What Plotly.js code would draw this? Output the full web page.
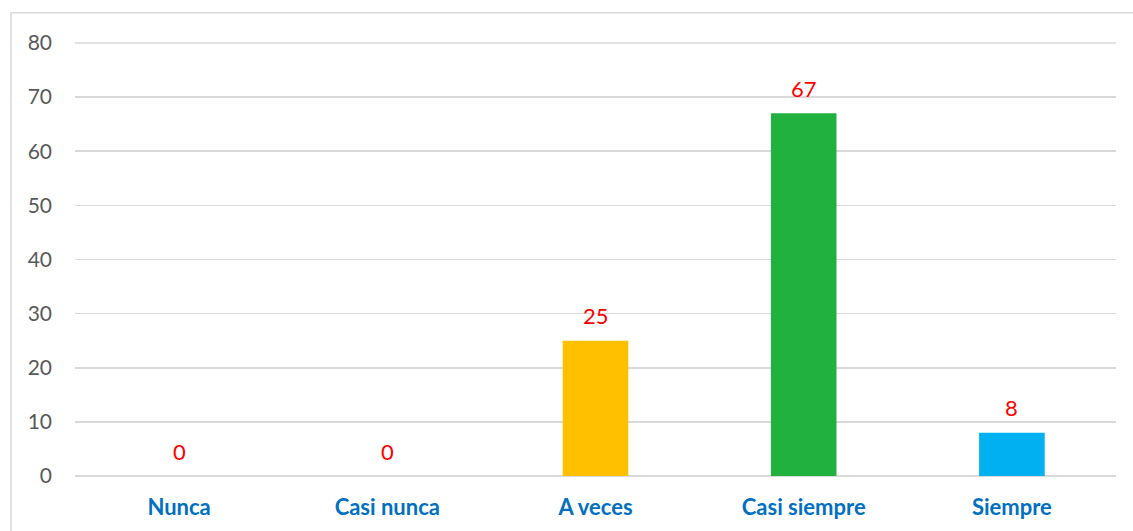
<!DOCTYPE html>
<html>
<head>
<meta charset="utf-8">
<script src="https://cdn.plot.ly/plotly-3.0.1.min.js"></script>
<style>
html,body{margin:0;padding:0;background:#fff;}
#chart{width:1133px;height:531px;}
</style>
</head>
<body>
<div id="chart"></div>
<script>
const categories = ["Nunca", "Casi nunca", "A veces", "Casi siempre", "Siempre"];
const values = [0, 0, 25, 67, 8];
const barColors = ["#FFC000", "#FFC000", "#FFC000", "#21B13F", "#00B0F0"];
const yTicks = [0, 10, 20, 30, 40, 50, 60, 70, 80];

const trace = {
  type: "bar",
  x: categories,
  y: values,
  marker: {color: barColors},
  hoverinfo: "x+y"
};

const annotations = categories.map((c, i) => ({
  x: c, y: values[i], xref: "x", yref: "y",
  text: String(values[i]), showarrow: false,
  yanchor: "middle", yshift: 25,
  font: {family: "Lato, 'Open Sans', sans-serif", size: 22, color: "#FF0000"}
}));

const L = 75, R = 1116, T = 43, B = 476;
const pw = R - L, ph = B - T;
const yMax = yTicks[yTicks.length - 1];

const layout = {
  width: 1133, height: 531,
  margin: {l: L, r: 1133 - R, t: T - 1, b: 531 - B - 1, pad: 0},
  paper_bgcolor: "#ffffff",
  plot_bgcolor: "rgba(0,0,0,0)",
  showlegend: false,
  bargap: 0.685,
  xaxis: {
    type: "category",
    showgrid: false, zeroline: false, showline: false,
    ticks: "",
    ticklabelstandoff: 15,
    tickfont: {family: "Lato, 'Open Sans', sans-serif", size: 22, color: "#0070C0", weight: "bold"}
  },
  yaxis: {
    range: [-0.18, yMax + 0.18],
    tickvals: yTicks,
    ticktext: yTicks.map(String),
    showgrid: true, gridcolor: "#D9D9D9", gridwidth: 1.5,
    zeroline: true, zerolinecolor: "#D9D9D9", zerolinewidth: 1.5,
    showline: false,
    ticks: "",
    ticklabelstandoff: 22,
    tickfont: {family: "Lato, 'Open Sans', sans-serif", size: 21, color: "#595959"}
  },
  annotations: annotations,
  shapes: [{
    type: "rect", xref: "paper", yref: "paper",
    x0: (11 - L) / pw, x1: (1140 - L) / pw,
    y0: (B - 540) / ph, y1: (B - 14) / ph,
    line: {color: "#D9D9D9", width: 1.5},
    fillcolor: "rgba(0,0,0,0)", layer: "below"
  }, {
    type: "line", xref: "paper", yref: "y",
    x0: 0, x1: 1, y0: yMax, y1: yMax,
    line: {color: "#D9D9D9", width: 1.5}, layer: "below"
  }]
};

Plotly.newPlot("chart", [trace], layout, {displayModeBar: false, staticPlot: true});
</script>
</body>
</html>
